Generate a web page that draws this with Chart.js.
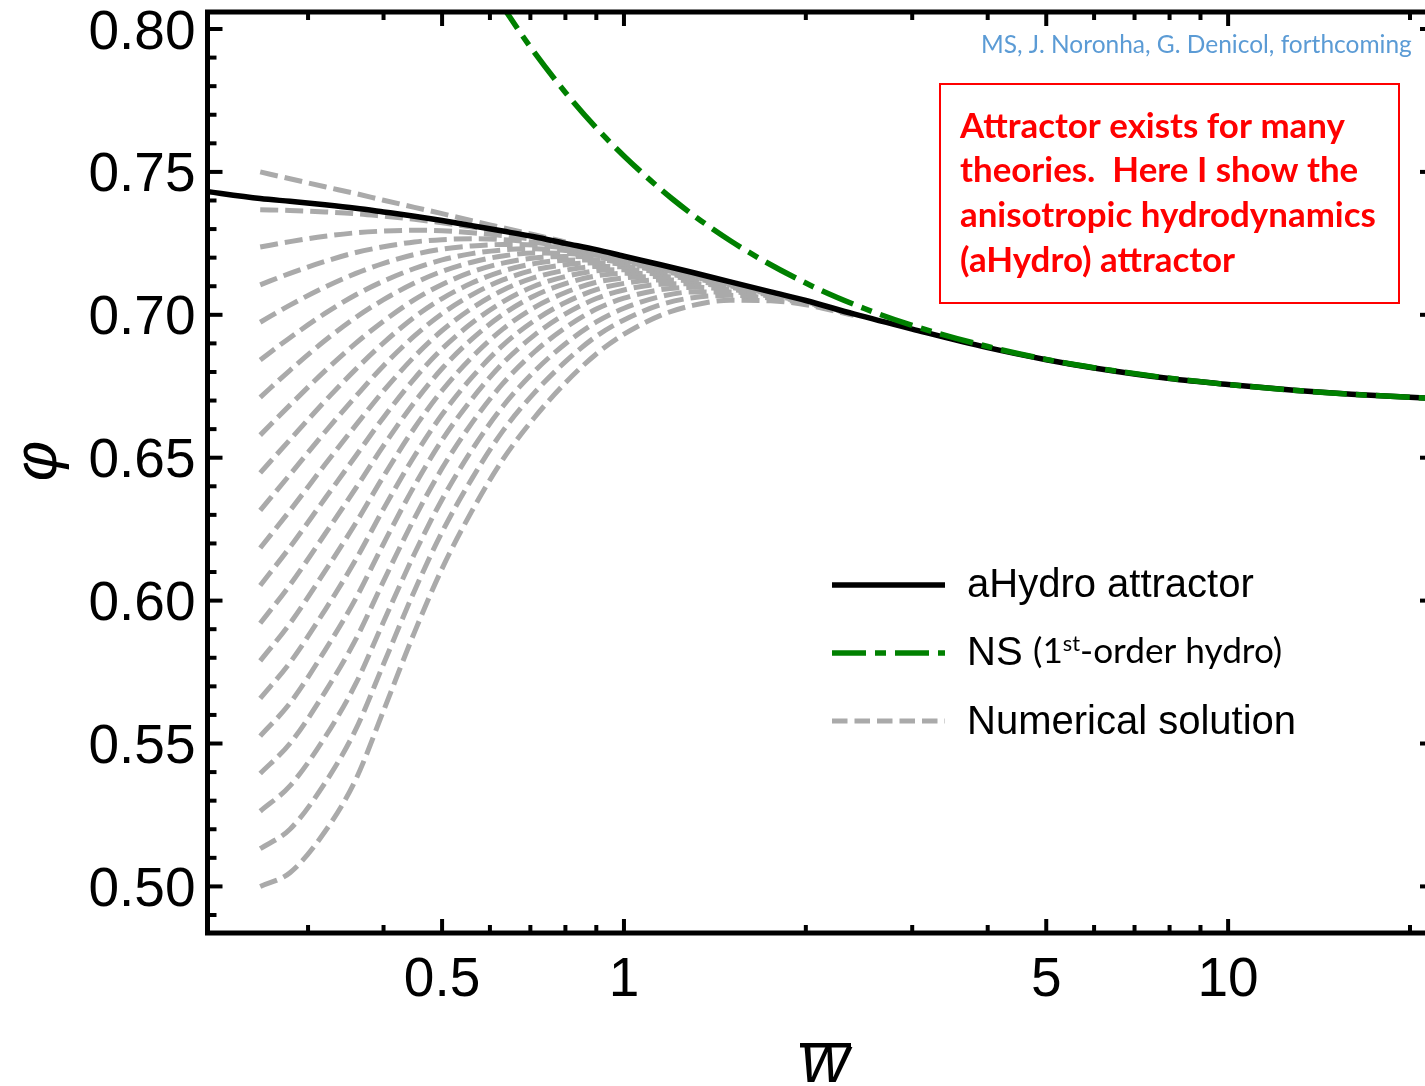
<!DOCTYPE html>
<html>
<head>
<meta charset="utf-8">
<title>aHydro attractor</title>
<script src="https://cdn.jsdelivr.net/npm/chart.js@4.4.1/dist/chart.umd.min.js"></script>
<style>
  html, body { margin: 0; padding: 0; overflow: hidden; background: #fff; }
  canvas { display: block; }
</style>
</head>
<body>
<canvas id="attractor" width="1440" height="1086"></canvas>
<script>
// w-bar grid shared by every numerical run (all runs start at w = 0.25)
const runW = [0.25, 0.28, 0.32, 0.36, 0.4, 0.45, 0.5, 0.56, 0.63, 0.71, 0.8, 0.9, 1.0, 1.15, 1.3, 1.5, 1.75, 2.0, 2.4];

// phi along each numerical solution; runs stop once they sit on the attractor
const numericalRuns = [
  [0.7500, 0.7476, 0.7448, 0.7424, 0.7401, 0.7376, 0.7354, 0.7329, 0.7305, 0.7280, 0.7255],
  [0.7368, 0.7365, 0.7360, 0.7354, 0.7345, 0.7334, 0.7322, 0.7307, 0.7290],
  [0.7237, 0.7256, 0.7275, 0.7287, 0.7293, 0.7296, 0.7294, 0.7287, 0.7277, 0.7263, 0.7244, 0.7225],
  [0.7105, 0.7145, 0.7187, 0.7218, 0.7238, 0.7255, 0.7263, 0.7266, 0.7263, 0.7254, 0.7239, 0.7222, 0.7202],
  [0.6974, 0.7034, 0.7097, 0.7145, 0.7180, 0.7211, 0.7230, 0.7241, 0.7246, 0.7244, 0.7233, 0.7218, 0.7200, 0.7173],
  [0.6842, 0.6920, 0.7005, 0.7070, 0.7118, 0.7162, 0.7192, 0.7214, 0.7227, 0.7231, 0.7225, 0.7214, 0.7197, 0.7171, 0.7146],
  [0.6711, 0.6806, 0.6910, 0.6991, 0.7053, 0.7111, 0.7152, 0.7184, 0.7206, 0.7216, 0.7215, 0.7208, 0.7193, 0.7170, 0.7146],
  [0.6579, 0.6684, 0.6804, 0.6901, 0.6978, 0.7053, 0.7106, 0.7150, 0.7181, 0.7199, 0.7204, 0.7201, 0.7189, 0.7168, 0.7145],
  [0.6447, 0.6563, 0.6698, 0.6810, 0.6902, 0.6992, 0.7057, 0.7111, 0.7153, 0.7179, 0.7191, 0.7192, 0.7183, 0.7165, 0.7143, 0.7113],
  [0.6316, 0.6441, 0.6590, 0.6715, 0.6822, 0.6926, 0.7004, 0.7070, 0.7122, 0.7157, 0.7175, 0.7182, 0.7177, 0.7161, 0.7141, 0.7112],
  [0.6184, 0.6315, 0.6476, 0.6614, 0.6734, 0.6854, 0.6945, 0.7023, 0.7086, 0.7130, 0.7156, 0.7169, 0.7168, 0.7157, 0.7139, 0.7111],
  [0.6053, 0.6187, 0.6357, 0.6507, 0.6641, 0.6777, 0.6881, 0.6971, 0.7045, 0.7100, 0.7134, 0.7154, 0.7158, 0.7151, 0.7136, 0.7110, 0.7078],
  [0.5921, 0.6055, 0.6233, 0.6394, 0.6542, 0.6694, 0.6812, 0.6915, 0.7001, 0.7066, 0.7109, 0.7136, 0.7145, 0.7143, 0.7131, 0.7108, 0.7078],
  [0.5789, 0.5920, 0.6103, 0.6272, 0.6435, 0.6604, 0.6735, 0.6851, 0.6950, 0.7025, 0.7078, 0.7114, 0.7129, 0.7134, 0.7126, 0.7105, 0.7076],
  [0.5658, 0.5783, 0.5967, 0.6144, 0.6321, 0.6506, 0.6651, 0.6781, 0.6893, 0.6979, 0.7043, 0.7088, 0.7110, 0.7122, 0.7118, 0.7101, 0.7075, 0.7048],
  [0.5526, 0.5641, 0.5826, 0.6008, 0.6199, 0.6402, 0.6562, 0.6705, 0.6830, 0.6928, 0.7003, 0.7057, 0.7087, 0.7107, 0.7109, 0.7096, 0.7073, 0.7047],
  [0.5395, 0.5500, 0.5680, 0.5865, 0.6068, 0.6288, 0.6463, 0.6621, 0.6759, 0.6869, 0.6955, 0.7020, 0.7058, 0.7088, 0.7096, 0.7089, 0.7069, 0.7045, 0.7002],
  [0.5263, 0.5352, 0.5522, 0.5710, 0.5926, 0.6164, 0.6354, 0.6527, 0.6679, 0.6801, 0.6899, 0.6975, 0.7023, 0.7064, 0.7080, 0.7080, 0.7065, 0.7043, 0.7001],
  [0.5132, 0.5200, 0.5362, 0.5550, 0.5778, 0.6034, 0.6240, 0.6426, 0.6593, 0.6726, 0.6836, 0.6925, 0.6982, 0.7035, 0.7060, 0.7068, 0.7058, 0.7040, 0.7000],
  [0.5000, 0.5048, 0.5192, 0.5375, 0.5615, 0.5889, 0.6112, 0.6313, 0.6493, 0.6639, 0.6762, 0.6863, 0.6932, 0.6998, 0.7033, 0.7051, 0.7049, 0.7035, 0.6998],
];

// aHydro attractor
const attractorW = [0.2, 0.25, 0.28, 0.32, 0.36, 0.4, 0.45, 0.5, 0.56, 0.63, 0.71, 0.8, 0.9, 1.0, 1.15, 1.3, 1.5, 1.75, 2.0, 2.4, 3, 4, 5, 6, 8, 10, 13, 16, 23];
const attractorPhi = [0.7434, 0.7407, 0.7397, 0.7385, 0.7373, 0.7360, 0.7345, 0.7330, 0.7312, 0.7293, 0.7273, 0.7250, 0.7228, 0.7205, 0.7175, 0.7148, 0.7115, 0.7080, 0.7050, 0.7003, 0.6950, 0.6885, 0.6843, 0.6814, 0.6777, 0.6756, 0.6735, 0.6722, 0.6705];

// Navier-Stokes (first-order hydro)
const nsW = [0.62, 0.7, 0.8, 0.9, 1.0, 1.2, 1.5, 2, 2.5, 3, 4, 5, 6, 8, 10, 13, 16, 23];
const nsPhi = [0.8101, 0.7937, 0.7778, 0.7654, 0.7556, 0.7407, 0.7259, 0.7111, 0.7022, 0.6963, 0.6889, 0.6844, 0.6815, 0.6778, 0.6756, 0.6735, 0.6722, 0.6705];

// axis ticks
const xMajorTicks = [0.5, 1, 5, 10];
const xTickLabels = ['0.5', '1', '5', '10'];
const xMinorTicks = [0.3, 0.4, 0.6, 0.7, 0.8, 0.9, 2, 3, 4, 6, 7, 8, 9, 20];
const yMajorTicks = [0.5, 0.55, 0.6, 0.65, 0.7, 0.75, 0.8];
const yTickLabels = ['0.50', '0.55', '0.60', '0.65', '0.70', '0.75', '0.80'];
const yMinorTicks = [0.49, 0.51, 0.52, 0.53, 0.54, 0.56, 0.57, 0.58, 0.59, 0.61, 0.62, 0.63, 0.64,
  0.66, 0.67, 0.68, 0.69, 0.71, 0.72, 0.73, 0.74, 0.76, 0.77, 0.78, 0.79];

const legendLabels = ['aHydro attractor', 'NS', 'Numerical solution'];

const GRAY = '#aaaaaa';
const GREEN = '#008000';
const BLACK = '#000000';
const GRAY_DASH = [18, 7];
const GREEN_DASH = [34, 9, 11, 9];
const SANS = '"Liberation Sans", Arial, sans-serif';
const CALIBRI_LIKE = 'Lato, "Open Sans", sans-serif';

const toPoints = (ws, ys) => ys.map((y, i) => ({ x: ws[i], y }));

const grayDatasets = numericalRuns.map((run) => ({
  data: toPoints(runW, run),
  borderColor: GRAY,
  borderWidth: 5,
  borderDash: GRAY_DASH,
  order: 2,
}));

const datasets = [
  {
    data: toPoints(nsW, nsPhi),
    borderColor: GREEN,
    borderWidth: 5.5,
    borderDash: GREEN_DASH,
    order: 0,
  },
  {
    data: toPoints(attractorW, attractorPhi),
    borderColor: BLACK,
    borderWidth: 5.5,
    order: 1,
  },
  ...grayDatasets,
].map((d) => ({ ...d, showLine: true, pointRadius: 0, fill: false, cubicInterpolationMode: 'monotone' }));

// scale a font so that a piece of text takes a given width
function fitSize(c, text, style, family, width) {
  c.font = `${style} 100px ${family}`;
  return (100 * width) / c.measureText(text).width;
}

const framePlugin = {
  id: 'frame',
  afterDatasetsDraw(chart) {
    const c = chart.ctx;
    const { left, right, top, bottom } = chart.chartArea;
    const xs = chart.scales.x;
    const ys = chart.scales.y;
    const seg = (x1, y1, x2, y2) => { c.beginPath(); c.moveTo(x1, y1); c.lineTo(x2, y2); c.stroke(); };

    c.save();
    c.strokeStyle = BLACK;
    c.fillStyle = BLACK;
    c.setLineDash([]);
    c.lineCap = 'butt';

    // inward ticks on all four sides
    c.lineWidth = 4;
    const xTick = (v, len) => {
      const px = xs.getPixelForValue(v);
      seg(px, bottom, px, bottom - len);
      seg(px, top, px, top + len);
    };
    const yTick = (v, len) => {
      const py = ys.getPixelForValue(v);
      seg(left, py, left + len, py);
      seg(right, py, right - len, py);
    };
    xMajorTicks.forEach((v) => xTick(v, 14));
    xMinorTicks.forEach((v) => xTick(v, 8));
    yMajorTicks.forEach((v) => yTick(v, 15));
    yMinorTicks.forEach((v) => yTick(v, 9));

    c.lineWidth = 5;
    c.strokeRect(left, top, right - left, bottom - top);

    // tick labels
    c.font = `55px ${SANS}`;
    c.textBaseline = 'alphabetic';
    c.textAlign = 'right';
    yMajorTicks.forEach((v, i) => c.fillText(yTickLabels[i], left - 12, ys.getPixelForValue(v) + 19.5));
    c.textAlign = 'center';
    xMajorTicks.forEach((v, i) => c.fillText(xTickLabels[i], xs.getPixelForValue(v), 995.5));

    // axis titles
    c.font = `italic 66px ${SANS}`;
    c.fillText('w', 825, 1082);
    c.fillRect(800, 1043, 51, 4.5);

    c.save();
    c.translate(56, 461);
    c.rotate(-Math.PI / 2);
    c.font = `italic 62px ${SANS}`;
    c.textAlign = 'center';
    c.fillText('\u03c6', 0, 0);
    c.restore();

    c.restore();
  },
  afterDraw(chart) {
    const c = chart.ctx;
    const seg = (x1, y1, x2, y2) => { c.beginPath(); c.moveTo(x1, y1); c.lineTo(x2, y2); c.stroke(); };
    c.save();

    // legend
    c.lineCap = 'butt';
    c.lineWidth = 5.5;
    c.strokeStyle = BLACK;
    c.setLineDash([]);
    seg(832, 585, 945, 585);
    c.strokeStyle = GREEN;
    c.setLineDash(GREEN_DASH);
    seg(832, 653, 945, 653);
    c.strokeStyle = GRAY;
    c.lineWidth = 5;
    c.setLineDash([15.5, 7]);
    seg(832, 721, 945, 721);
    c.setLineDash([]);

    c.fillStyle = BLACK;
    c.textAlign = 'left';
    c.textBaseline = 'alphabetic';
    c.font = `40px ${SANS}`;
    c.fillText(legendLabels[0], 967, 597);
    c.fillText(legendLabels[1], 967, 665);
    c.fillText(legendLabels[2], 967, 734);

    // "(1st-order hydro)" with superscript
    const size = fitSize(c, '(1-order hydro)', '', CALIBRI_LIKE, 232);
    c.font = `${size}px ${CALIBRI_LIKE}`;
    let x = 1033;
    c.fillText('(1', x, 663);
    x += c.measureText('(1').width;
    c.font = `${size * 0.62}px ${CALIBRI_LIKE}`;
    c.fillText('st', x, 651);
    x += c.measureText('st').width;
    c.font = `${size}px ${CALIBRI_LIKE}`;
    c.fillText('-order hydro)', x, 663);

    // citation
    c.fillStyle = '#5b9bd5';
    const citation = 'MS, J. Noronha, G. Denicol, forthcoming';
    c.font = `${fitSize(c, citation, '', CALIBRI_LIKE, 431)}px ${CALIBRI_LIKE}`;
    c.fillText(citation, 981, 52.5);

    // red note box
    c.strokeStyle = '#ff0000';
    c.lineWidth = 2;
    c.strokeRect(940, 84, 459, 219);
    c.fillStyle = '#ff0000';
    const note = ['Attractor exists for many', 'theories.  Here I show the', 'anisotropic hydrodynamics', '(aHydro) attractor'];
    c.font = `bold ${fitSize(c, note[2], 'bold', CALIBRI_LIKE, 416)}px ${CALIBRI_LIKE}`;
    note.forEach((line, i) => c.fillText(line, 960, 137.5 + i * 44.8));

    c.restore();
  },
};

new Chart(document.getElementById('attractor').getContext('2d'), {
  type: 'scatter',
  data: { datasets },
  options: {
    responsive: false,
    animation: false,
    devicePixelRatio: 1,
    layout: { padding: { left: 207.5, top: 12, right: 5, bottom: 153 } },
    scales: {
      x: { type: 'logarithmic', min: 0.2045, max: 22.0, display: false },
      y: { type: 'linear', min: 0.4837, max: 0.80595, display: false },
    },
    plugins: { legend: { display: false }, tooltip: { enabled: false } },
  },
  plugins: [framePlugin],
});
</script>
</body>
</html>
